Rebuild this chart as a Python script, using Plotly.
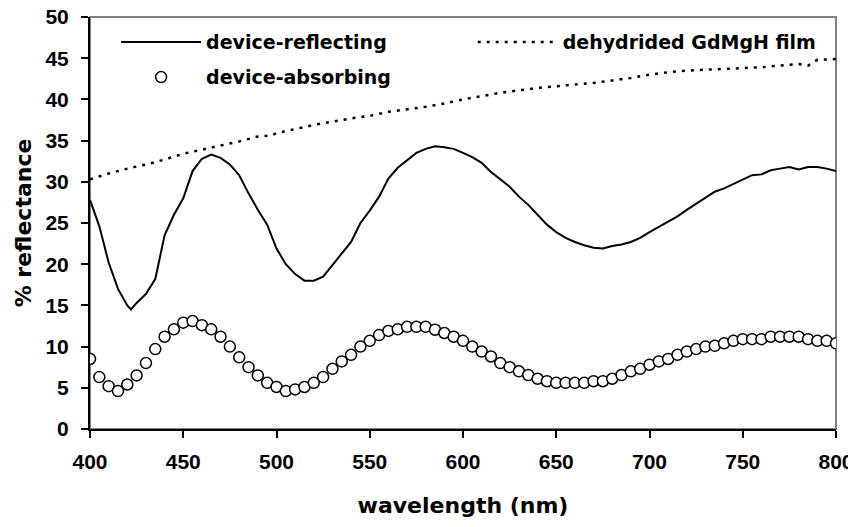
import plotly.graph_objects as go

# ---- data ----
wl_reflect = [400, 405, 410, 415, 420, 422, 425, 430, 435, 440, 445, 450, 455, 460, 465, 470,
              475, 480, 485, 490, 495, 500, 505, 510, 515, 520, 525, 530, 535, 540, 545, 550,
              555, 560, 565, 570, 575, 580, 585, 590, 595, 600, 605, 610, 615, 620, 625, 630,
              635, 640, 645, 650, 655, 660, 665, 670, 675, 680, 685, 690, 695, 700, 705, 710,
              715, 720, 725, 730, 735, 740, 745, 750, 755, 760, 765, 770, 775, 780, 785, 790,
              795, 800]
reflecting = [27.8, 24.6, 20.2, 17.0, 15.0, 14.5, 15.3, 16.4, 18.2, 23.5, 26.0, 28.0, 31.3, 32.8,
              33.3, 32.9, 32.1, 30.8, 28.6, 26.6, 24.8, 21.9, 20.0, 18.8, 18.0, 18.0, 18.5, 19.9,
              21.2, 22.7, 25.0, 26.5, 28.2, 30.4, 31.7, 32.6, 33.5, 34.0, 34.3, 34.2, 34.0, 33.5,
              33.0, 32.3, 31.2, 30.3, 29.4, 28.2, 27.2, 26.0, 24.8, 23.9, 23.2, 22.7, 22.3, 22.0,
              21.9, 22.2, 22.4, 22.7, 23.2, 23.9, 24.5, 25.2, 25.8, 26.6, 27.3, 28.0, 28.8, 29.2,
              29.7, 30.2, 30.8, 30.9, 31.4, 31.6, 31.8, 31.5, 31.8, 31.8, 31.6, 31.3]

wl_absorb = list(range(400, 801, 5))
absorbing = [8.5, 6.3, 5.2, 4.6, 5.4, 6.5, 8.0, 9.7, 11.2, 12.1, 12.9, 13.1, 12.6, 12.1, 11.2,
             10.0, 8.7, 7.5, 6.5, 5.6, 5.1, 4.6, 4.8, 5.1, 5.6, 6.3, 7.3, 8.2, 9.0, 10.0, 10.7,
             11.4, 11.9, 12.1, 12.4, 12.4, 12.4, 12.05, 11.65, 11.2, 10.7, 10.0, 9.4, 8.8, 8.0,
             7.5, 7.0, 6.55, 6.1, 5.8, 5.6, 5.6, 5.6, 5.6, 5.8, 5.8, 6.1, 6.55, 7.0, 7.3, 7.8,
             8.2, 8.5, 9.0, 9.4, 9.7, 10.0, 10.1, 10.4, 10.7, 10.9, 10.9, 10.9, 11.2, 11.2, 11.2,
             11.2, 10.9, 10.7, 10.7, 10.4]

wl_film = [400, 410, 420, 430, 440, 450, 460, 470, 480, 490, 497, 500, 510, 520, 530, 540, 550,
           560, 570, 580, 590, 600, 610, 620, 630, 640, 650, 660, 670, 680, 690, 700, 710, 720,
           730, 740, 750, 760, 770, 780, 785, 790, 800]
film = [30.3, 31.0, 31.6, 32.1, 32.7, 33.4, 33.9, 34.4, 34.9, 35.5, 35.6, 35.9, 36.4, 36.9, 37.3,
        37.7, 38.0, 38.5, 38.8, 39.1, 39.5, 40.0, 40.4, 40.8, 41.1, 41.4, 41.6, 41.8, 42.0, 42.3,
        42.6, 43.0, 43.3, 43.5, 43.6, 43.7, 43.8, 43.9, 44.1, 44.3, 44.1, 44.8, 44.9]

x_ticks = [400, 450, 500, 550, 600, 650, 700, 750, 800]
y_ticks = [0, 5, 10, 15, 20, 25, 30, 35, 40, 45, 50]

TICK_FONT = dict(family="Liberation Sans, Arial, sans-serif", size=21, color="black", weight="bold")
TXT_FONT = dict(family="DejaVu Sans, sans-serif", size=19, color="black", weight="bold")
TITLE_FONT = dict(family="DejaVu Sans, sans-serif", size=22, color="black", weight="bold")

fig = go.Figure()

fig.add_trace(go.Scatter(
    x=wl_reflect, y=reflecting, mode="lines", name="device-reflecting",
    line=dict(color="black", width=2), legend="legend"))
fig.add_trace(go.Scatter(
    x=wl_film, y=film, mode="lines", name="dehydrided GdMgH film",
    line=dict(color="black", width=2.5, dash="3px,6px"), legend="legend2"))
fig.add_trace(go.Scatter(
    x=wl_absorb, y=absorbing, mode="markers", name="device-absorbing",
    marker=dict(symbol="circle", size=11, color="white", line=dict(color="black", width=1.5)),
    legend="legend3"))

# grey plot-area frame (top & right)
fig.add_shape(type="rect", xref="paper", yref="paper", x0=0, x1=1, y0=0, y1=1,
              line=dict(color="#808080", width=2), layer="below")

legend_common = dict(bgcolor="rgba(0,0,0,0)", borderwidth=0, font=TXT_FONT,
                     itemwidth=80, xanchor="left", yanchor="top")

fig.update_layout(
    width=848, height=519,
    margin=dict(l=82, r=20, t=9, b=98, autoexpand=False),
    paper_bgcolor="white", plot_bgcolor="white",
    showlegend=True,
    legend=dict(x=0.035, y=0.985, **legend_common),
    legend2=dict(x=0.513, y=0.985, **legend_common),
    legend3=dict(x=0.035, y=0.9, **legend_common),
    xaxis=dict(range=[400, 800], tickvals=x_ticks, ticktext=[str(v) for v in x_ticks],
               automargin=False, ticklabeloverflow="allow",
               showgrid=False, zeroline=False, showline=True, linecolor="black", linewidth=2,
               ticks="outside", ticklen=7, tickwidth=1.5, tickcolor="black",
               tickfont=TICK_FONT, ticklabelstandoff=6,
               title=dict(text="wavelength (nm)", font=TITLE_FONT, standoff=25)),
    xaxis2=dict(range=[400, 800], tickvals=x_ticks, overlaying="x", anchor="y", side="bottom",
                automargin=False,
                showticklabels=False, showgrid=False, zeroline=False, showline=False,
                ticks="inside", ticklen=6, tickwidth=1.5, tickcolor="black"),
    yaxis=dict(range=[0, 50], tickvals=y_ticks, ticktext=[str(v) for v in y_ticks],
               automargin=False, ticklabeloverflow="allow",
               showgrid=False, zeroline=False, showline=True, linecolor="black", linewidth=2,
               ticks="outside", ticklen=7, tickwidth=1.5, tickcolor="black",
               tickfont=TICK_FONT, ticklabelstandoff=8,
               title=dict(text="% reflectance", font=TITLE_FONT, standoff=8)),
)

fig.write_html("out.html")
